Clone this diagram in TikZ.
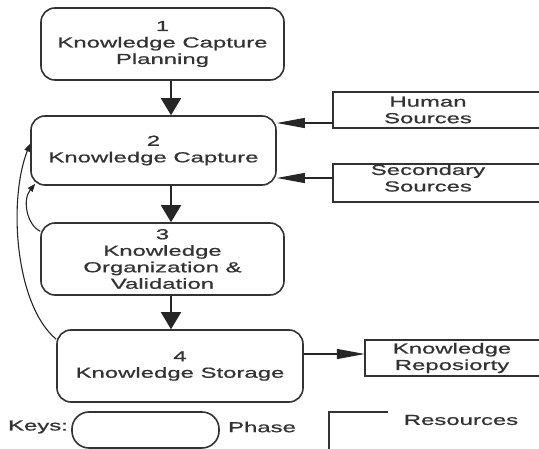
\documentclass[tikz,border=0pt]{standalone}
\usepackage{fontspec}
\setmainfont{Liberation Sans}[FakeStretch=1.65,FakeBold=0.8]
\usetikzlibrary{arrows.meta}
\begin{document}
\begin{tikzpicture}[x=1pt,y=-1pt,
  every node/.style={font=\fontsize{14.5}{16.5}\selectfont, text=black!80, align=center},
  phase/.style={draw=black!80, line width=1.6pt, rounded corners=14pt, inner sep=0pt},
  frame/.style={draw=none, inner sep=0pt},
  bigarrow/.style={draw=black!85, line width=1.5pt, -{Triangle[length=17pt,width=20pt]}},
  sidearrow/.style={draw=black!85, line width=1.2pt, -{Triangle[length=28pt,width=10pt]}},
  feedback/.style={draw=black!85, line width=1.1pt, -{Triangle[length=8pt,width=6pt]}},
  openbox/.style={draw=black!80, line width=1.5pt}
]
\useasboundingbox[fill=white] (0,0) rectangle (539,449);

% phases
\node[phase, minimum width=243pt, minimum height=72pt] (b1) at (162.5,44) {1\\Knowledge Capture\\Planning};
\node[phase, minimum width=245pt, minimum height=69pt] (b2) at (153.5,150.5) {2\\Knowledge Capture};
\node[phase, minimum width=243pt, minimum height=72pt] (b3) at (162.5,259) {3\\Knowledge\\Organization \&\\Validation};
\node[phase, minimum width=246pt, minimum height=72pt] (b4) at (180,366) {4\\Knowledge Storage};

% resources
\node[frame, minimum width=206pt, minimum height=36pt] (hsf) at (436,110) {};
\node (hs) at (428,110) {Human\\Sources};
\draw[openbox] (hsf.north east) -- (hsf.north west) -- (hsf.south west) -- (hsf.south east);

\node[frame, minimum width=206pt, minimum height=38pt] (ssf) at (436,183) {};
\node (ss) at (428,178) {Secondary\\Sources};
\draw[openbox] (ssf.north east) -- (ssf.north west) -- (ssf.south west) -- (ssf.south east);

\node[frame, minimum width=174pt, minimum height=36pt] (krf) at (452,358) {};
\node (kr) at (452,358) {Knowledge\\Reposiorty};
\draw[openbox] (krf.north east) -- (krf.north west) -- (krf.south west) -- (krf.south east);

% main flow
\coordinate (ax) at (171,0);
\draw[bigarrow] (b1.south -| ax) -- (b2.north -| ax);
\draw[bigarrow] (b2.south -| ax) -- (b3.north -| ax);
\draw[bigarrow] (b3.south -| ax) -- (b4.north -| ax);

% resource arrows
\draw[sidearrow] ([yshift=-13pt]hsf.west) -- ([yshift=-13pt]hsf.west -| b2.east);
\draw[sidearrow] ([yshift=5pt]ssf.west) -- ([yshift=5pt]ssf.west -| b2.east);
\draw[sidearrow] ([yshift=4pt]krf.west -| b4.east) -- ([yshift=4pt]krf.west);

% feedback curves
\draw[feedback] ([yshift=-9pt]b3.north west) .. controls (27,225) and (22,200) .. ([xshift=5pt,yshift=2pt]b2.south west);
\draw[feedback] ([yshift=-10pt]b4.north west) .. controls (15,305) and (8,200) .. ([yshift=7pt]b2.west);

% keys
\node (keys) at (38,427) {Keys:};
\node[phase, rounded corners=17pt, minimum width=147pt, minimum height=36pt] (keyph) at (145.5,430) {};
\node (phl) at (262,427) {Phase};
\node[frame, minimum width=59pt, minimum height=37pt] (keyres) at (358.5,430.5) {};
\draw[openbox] (keyres.north east) -- (keyres.north west) -- (keyres.south west);
\node (resl) at (461,420) {Resources};
\end{tikzpicture}
\end{document}
